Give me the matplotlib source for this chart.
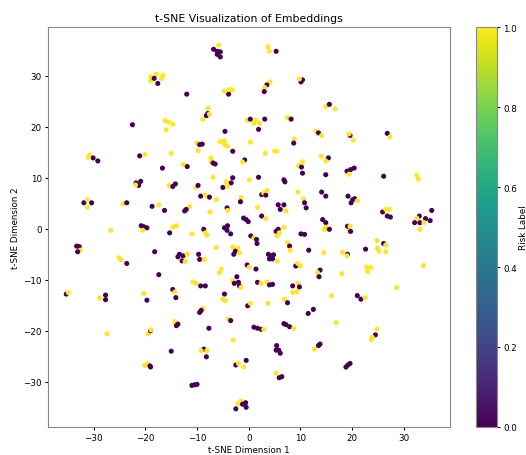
import matplotlib
matplotlib.use('Agg')
import matplotlib.pyplot as plt
import numpy as np

# t-SNE coordinates, grouped by region: (dim1, dim2, risk label)
upper_left = [
    (-19.0, 29.8, 1), (-17.9, 30.3, 1), (-16.6, 30.1, 1), (-16.9, 29.5, 1), (-19.0, 29.0, 1),
    (-18.3, 29.5, 0), (-17.6, 28.5, 0),
    (-22.5, 20.4, 0), (-16.2, 21.2, 1), (-15.5, 20.9, 1), (-14.7, 20.5, 1), (-16.0, 19.4, 1),
    (-15.0, 14.8, 1), (-21.1, 14.3, 0), (-20.1, 14.6, 1),
    (-30.8, 14.5, 1), (-30.1, 13.9, 0), (-31.1, 14.0, 1), (-29.2, 13.3, 0),
]
middle_left = [
    (-16.7, 11.9, 0),
    (-21.8, 9.0, 0), (-20.9, 9.3, 0), (-21.3, 8.5, 0), (-21.9, 8.6, 1),
    (-15.4, 8.5, 1), (-14.7, 8.3, 0), (-14.2, 8.8, 0),
    (-31.9, 5.1, 0), (-31.2, 5.7, 1), (-30.4, 5.1, 0), (-31.2, 4.2, 1),
    (-24.3, 4.9, 1), (-23.6, 5.1, 0),
    (-18.7, 4.4, 0), (-17.4, 4.7, 1), (-16.3, 3.6, 0),
    (-26.7, -0.3, 1),
    (-20.8, 0.6, 0), (-20.3, 0.4, 0), (-19.7, 0.2, 0), (-20.5, -0.3, 1),
    (-14.7, 0.3, 1), (-14.0, 0.6, 1), (-15.3, -0.8, 0),
    (-33.3, -3.4, 0), (-32.8, -3.5, 0), (-32.6, -4.2, 1), (-33.1, -4.5, 0),
    (-18.2, -4.5, 0),
    (-25.1, -5.7, 1), (-24.7, -6.1, 1), (-23.6, -6.8, 0),
    (-13.7, -5.5, 0), (-17.4, -9.0, 0), (-14.7, -11.9, 0),
]
lower_left = [
    (-35.3, -12.8, 0), (-34.9, -12.5, 1),
    (-28.8, -13.6, 1), (-27.7, -13.0, 0), (-27.7, -13.9, 0),
    (-20.3, -12.7, 1), (-19.7, -14.0, 0),
    (-14.3, -12.4, 1), (-14.1, -13.5, 0),
    (-27.4, -20.6, 1),
    (-19.5, -20.6, 1), (-19.0, -20.0, 0), (-18.9, -19.8, 1),
    (-14.3, -18.2, 1), (-14.0, -19.0, 0), (-13.7, -18.7, 0),
    (-15.0, -24.0, 0),
    (-20.1, -26.8, 1), (-19.5, -26.5, 1), (-19.0, -27.1, 0), (-19.1, -26.9, 0),
]
upper_middle = [
    (-5.8, 36.0, 1), (-6.8, 35.2, 0), (-6.1, 34.8, 0), (-5.5, 34.7, 0), (-6.1, 34.2, 0), (-5.5, 33.7, 0),
    (3.7, 35.7, 1), (4.0, 34.8, 1), (5.3, 34.8, 0),
    (10.1, 28.8, 0), (10.4, 29.2, 0), (9.8, 29.4, 1),
    (4.1, 28.8, 1), (3.5, 28.2, 0), (3.1, 27.7, 1), (3.0, 26.9, 0),
    (-12.0, 26.4, 0),
    (-3.9, 26.4, 0), (-3.7, 27.3, 1), (-3.2, 27.2, 1), (-4.7, 27.0, 1),
    (-7.9, 23.6, 1), (-8.2, 22.2, 0), (-7.9, 22.6, 0), (-7.6, 22.5, 1), (-8.9, 21.5, 1),
    (-0.3, 21.3, 1), (0.3, 21.5, 0), (1.0, 20.7, 1), (1.4, 21.3, 1), (2.1, 20.7, 1), (3.1, 21.5, 0), (1.9, 19.5, 0),
    (7.5, 21.8, 1), (8.2, 21.5, 0),
    (-4.6, 19.1, 0),
    (-10.0, 16.8, 1), (-9.5, 16.5, 0), (-9.0, 16.6, 0), (-9.8, 15.3, 1),
    (-5.5, 17.1, 1), (-4.7, 17.2, 1), (-4.2, 16.2, 1), (-4.7, 16.6, 1),
    (-3.1, 15.2, 0), (0.3, 17.0, 1),
    (8.8, 17.6, 1), (8.7, 16.8, 0),
    (3.2, 14.8, 1), (5.0, 15.2, 1), (5.4, 15.2, 1),
    (-7.3, 13.9, 1), (-0.8, 13.5, 0),
]
upper_right = [
    (14.9, 24.0, 1), (15.6, 24.4, 0), (16.7, 23.5, 1),
    (13.0, 19.1, 1), (13.5, 18.8, 0), (14.1, 18.3, 1),
    (19.6, 18.3, 0), (19.4, 18.6, 1), (20.2, 17.4, 1),
    (26.8, 18.7, 0), (27.3, 18.0, 1),
    (14.0, 14.2, 1), (15.4, 13.9, 0),
]
center = [
    (-12.7, 12.6, 1), (-11.9, 12.2, 0),
    (-7.3, 13.2, 1), (-6.9, 12.9, 0), (-6.5, 12.7, 0),
    (-1.2, 13.1, 1),
    (9.6, 12.4, 1), (10.4, 13.1, 1), (10.2, 12.1, 0), (10.4, 10.9, 0),
    (-10.2, 8.1, 1), (-9.8, 8.5, 0),
    (-6.9, 10.1, 1),
    (-4.4, 9.2, 1), (-3.4, 9.0, 0), (-3.1, 10.0, 0), (-5.0, 8.1, 0), (-4.1, 8.3, 1),
    (0.1, 9.6, 1), (1.9, 10.1, 0),
    (6.8, 9.6, 0), (7.0, 9.2, 0),
    (2.5, 6.7, 0), (2.9, 7.0, 1), (3.3, 6.6, 0), (3.5, 7.5, 1),
    (9.5, 7.2, 1),
    (-9.3, 6.4, 0), (-8.4, 6.6, 1), (-7.6, 6.2, 0), (-6.3, 5.7, 1),
    (-1.5, 6.1, 1), (-1.6, 5.3, 0),
    (10.6, 5.9, 1), (10.8, 5.1, 0), (11.1, 4.1, 0),
    (-11.4, 4.4, 1), (-12.1, 3.8, 0), (-12.4, 3.5, 0),
    (-7.5, 3.3, 1),
    (-4.2, 4.1, 0), (-4.1, 3.6, 1),
    (1.7, 4.2, 1),
    (5.7, 4.7, 0), (6.8, 4.7, 0), (6.1, 3.8, 0), (7.2, 3.5, 1),
    (2.5, 2.5, 0), (3.3, 2.0, 1),
    (-1.0, 2.1, 0), (-0.5, 1.8, 0), (-0.1, 1.4, 0),
    (-4.7, 0.2, 0), (-4.1, 0.6, 0), (-4.2, -0.3, 0), (-3.5, -1.0, 0),
    (-8.7, -0.1, 0), (-8.4, -0.8, 1), (-8.1, -1.2, 1),
    (-11.0, -1.0, 1),
    (0.4, -1.4, 0), (1.0, -1.8, 1), (1.5, -2.1, 0), (1.6, -2.9, 0),
    (5.3, -0.5, 0), (5.7, -0.1, 0), (6.8, 0.3, 1), (5.9, -0.8, 1), (5.5, -1.4, 1),
    (10.1, -1.0, 0), (10.8, -1.1, 0),
    (7.5, -2.7, 1), (7.9, -3.4, 0), (8.0, -4.2, 1),
    (-6.3, -3.7, 1),
    (-3.1, -3.6, 1), (-2.1, -3.8, 1), (-2.6, -4.4, 0), (-2.9, -5.0, 0), (-1.8, -4.7, 1),
    (-13.4, -5.0, 0), (-12.7, -5.3, 0), (-12.9, -6.3, 0), (-11.9, -5.0, 1), (-12.3, -6.4, 1),
    (-9.7, -5.0, 0), (-9.5, -6.0, 0), (-8.6, -6.0, 1),
    (3.8, -5.0, 0), (4.3, -5.3, 0), (4.8, -5.1, 0), (4.0, -5.9, 0), (4.6, -5.9, 0), (5.5, -6.3, 1),
    (-0.3, -7.1, 0), (0.1, -7.5, 1), (1.4, -7.9, 0),
    (-5.3, -7.9, 1), (-5.7, -8.6, 1),
    (9.1, -7.3, 0), (9.5, -6.8, 1), (10.0, -7.3, 1),
    (-10.8, -10.4, 1), (-10.2, -10.7, 1), (-9.3, -11.2, 0), (-8.4, -11.2, 0),
    (-3.1, -10.2, 1), (-2.3, -9.4, 0), (-2.8, -10.7, 0), (-2.0, -10.5, 0), (-1.8, -11.2, 0), (-1.5, -11.5, 1),
    (1.7, -10.5, 0), (2.4, -10.7, 1), (3.5, -10.4, 1), (4.0, -11.0, 0), (4.6, -10.9, 0),
    (8.5, -11.2, 0), (9.5, -10.7, 1), (9.8, -11.4, 0),
]
middle_right = [
    (14.9, 13.3, 1),
    (14.9, 10.6, 0),
    (19.0, 11.3, 0), (19.7, 11.6, 0), (20.4, 11.9, 0), (19.4, 10.7, 1),
    (26.1, 10.3, 0),
    (32.5, 10.5, 1), (32.8, 9.8, 1),
    (14.1, 7.2, 0), (14.9, 6.4, 0),
    (19.2, 6.4, 0), (20.1, 5.7, 0), (19.8, 5.1, 0), (20.5, 5.9, 0), (21.0, 5.5, 1),
    (25.9, 3.3, 0), (26.5, 3.8, 1), (27.2, 3.8, 1), (26.8, 2.5, 0), (27.4, 2.3, 0),
    (35.4, 3.6, 0), (33.0, 2.5, 0), (32.5, 2.1, 1), (34.2, 2.0, 0), (35.1, 1.6, 0),
    (32.1, 1.2, 0), (33.1, 1.2, 0), (33.9, 1.2, 1), (33.1, -0.1, 1),
    (14.3, 1.8, 0), (14.9, 1.2, 0), (14.6, -0.1, 1), (14.9, 0.3, 1), (15.6, -0.1, 0),
    (19.1, 0.5, 0), (19.6, 0.5, 1), (19.4, -0.5, 1), (19.7, -0.5, 0),
    (11.6, -4.2, 0),
    (14.5, -4.7, 1), (18.1, -4.6, 1), (19.1, -5.0, 0), (19.0, -5.3, 1),
    (22.6, -4.0, 0),
    (24.8, -2.3, 1), (26.1, -2.9, 0), (26.5, -3.2, 1), (24.9, -3.8, 1), (25.2, -4.4, 1), (26.5, -4.5, 1),
    (33.8, -7.2, 1),
    (22.8, -7.5, 1), (23.6, -7.6, 1), (23.0, -8.4, 1),
    (18.0, -8.8, 1),
    (13.8, -8.1, 0), (13.3, -8.6, 1), (13.6, -9.4, 0),
    (28.6, -11.5, 1),
]
lower_middle = [
    (-4.7, -12.8, 0), (-5.0, -13.8, 1), (-4.5, -14.1, 1),
    (-0.2, -15.1, 0), (0.3, -14.6, 1),
    (3.7, -14.6, 1),
    (6.9, -13.8, 1), (7.5, -14.5, 0),
    (8.5, -12.5, 1), (9.3, -12.3, 1),
    (-9.5, -16.4, 0), (-8.9, -15.6, 1), (-9.2, -16.0, 0),
    (11.5, -16.6, 0),
    (-7.7, -19.5, 0),
    (-3.9, -17.7, 1), (-3.5, -18.0, 0),
    (1.0, -19.3, 0), (1.7, -19.5, 0), (2.4, -19.7, 0), (2.9, -19.7, 1),
    (6.8, -18.6, 0), (7.2, -18.8, 0), (7.9, -19.2, 0), (8.7, -19.5, 1),
    (-3.0, -21.8, 1),
    (-8.7, -23.6, 0), (-9.2, -23.9, 1), (-8.1, -23.9, 1), (-8.2, -25.1, 0),
    (5.4, -22.9, 0), (5.3, -23.8, 0), (6.1, -24.4, 0), (5.8, -23.8, 0),
    (-0.5, -25.8, 0), (-2.5, -26.7, 0), (-2.0, -26.4, 1), (-1.0, -27.1, 1),
    (5.3, -28.3, 1), (5.9, -29.2, 0), (6.4, -29.0, 0),
    (-11.0, -30.7, 0), (-10.5, -30.6, 0), (-10.0, -30.5, 0),
    (-2.1, -34.3, 1), (-1.5, -33.8, 1), (-1.2, -34.4, 0), (-0.6, -34.1, 0), (-0.5, -35.0, 0), (-2.5, -35.3, 0),
]
lower_right = [
    (16.0, -13.1, 1),
    (21.0, -13.1, 0), (21.7, -13.8, 0), (22.5, -13.5, 1),
    (12.5, -15.8, 0),
    (16.9, -18.4, 1),
    (24.8, -19.7, 1), (24.5, -20.8, 0), (23.9, -21.3, 1), (23.7, -21.7, 1),
    (12.7, -23.6, 1), (13.5, -22.9, 0), (13.8, -22.6, 0),
    (18.8, -27.1, 0), (19.2, -26.7, 0), (19.6, -26.4, 0),
]

points = np.array(upper_left + middle_left + lower_left + upper_middle + upper_right
                  + center + middle_right + lower_middle + lower_right)
tsne_x = points[:, 0]
tsne_y = points[:, 1]
risk_label = points[:, 2]

plt.rcParams['font.size'] = 6.3
plt.rcParams['xtick.major.size'] = 2.5
plt.rcParams['ytick.major.size'] = 2.5
plt.rcParams['xtick.major.pad'] = 2
plt.rcParams['ytick.major.pad'] = 2

fig = plt.figure(figsize=(5.26, 4.56), dpi=100)
ax = fig.add_axes([48 / 526, 28 / 456, 402 / 526, 400 / 456])
cax = fig.add_axes([476 / 526, 28 / 456, 21 / 526, 400 / 456])

sc = ax.scatter(tsne_x, tsne_y, c=risk_label, cmap='viridis', s=7)
ax.set_title('t-SNE Visualization of Embeddings', fontsize=7.8, pad=4)
ax.set_xlabel('t-SNE Dimension 1', labelpad=2)
ax.set_ylabel('t-SNE Dimension 2', labelpad=2)
for spine in ax.spines.values():
    spine.set_color('#888888')

cbar = fig.colorbar(sc, cax=cax)
cbar.set_label('Risk Label', labelpad=1)
cbar.outline.set_edgecolor('#888888')

fig.savefig('out.png', dpi=100)
